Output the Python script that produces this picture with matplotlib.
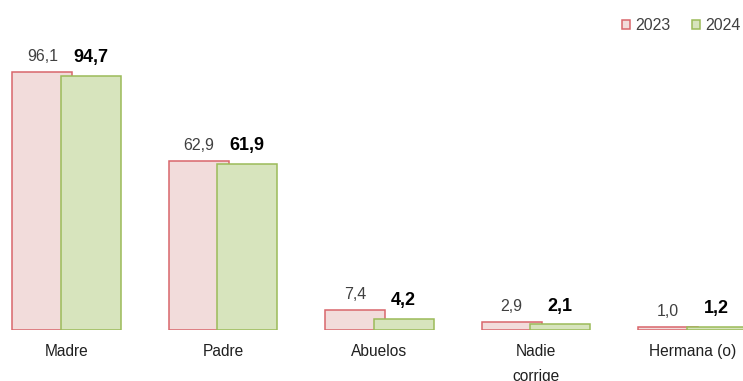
import numpy as np
import matplotlib
matplotlib.use('Agg')
import matplotlib.pyplot as plt
from matplotlib.patches import Patch

plt.rcParams['font.family'] = ['Liberation Sans', 'DejaVu Sans']

categorias = ['Madre', 'Padre', 'Abuelos', 'Nadie\ncorrige', 'Hermana (o)']
val_2023 = [96.1, 62.9, 7.4, 2.9, 1.0]
val_2024 = [94.7, 61.9, 4.2, 2.1, 1.2]

col_2023 = '#F2DCDB'
borde_2023 = '#D9666B'
col_2024 = '#D7E4BD'
borde_2024 = '#9BBB59'

fig = plt.figure(figsize=(7.43, 3.81), dpi=100)
ax = fig.add_axes([0, 0.1339, 1, 0.7743])

x = np.arange(len(categorias))
ancho = 0.383
desp = 0.155

ax.bar(x - desp, val_2023, ancho, color=col_2023, edgecolor=borde_2023, linewidth=1.1, zorder=2)
ax.bar(x + desp, val_2024, ancho, color=col_2024, edgecolor=borde_2024, linewidth=1.1, zorder=3)

fmt = lambda v: f'{v:.1f}'.replace('.', ',')
for xi, v in zip(x, val_2023):
    ax.annotate(fmt(v), (xi - desp, v), xytext=(0, 6), textcoords='offset points',
                ha='center', va='bottom', fontsize=11.5, color='#404040')
for xi, v in zip(x, val_2024):
    ax.annotate(fmt(v), (xi + desp, v), xytext=(0, 7), textcoords='offset points',
                ha='center', va='bottom', fontsize=13, fontweight='bold', color='#000000')

ax.set_xlim(-0.425, 4.323)
ax.set_ylim(0, 110)
ax.set_xticks(x)
ax.set_xticklabels(categorias, fontsize=11.2, color='#202020', linespacing=1.85)
ax.tick_params(axis='x', length=0, pad=10)
ax.set_yticks([])
for s in ax.spines.values():
    s.set_visible(False)

handles = [Patch(facecolor=col_2023, edgecolor=borde_2023, linewidth=1.1, label='2023'),
           Patch(facecolor=col_2024, edgecolor=borde_2024, linewidth=1.1, label='2024')]
fig.legend(handles=handles, loc='upper right', bbox_to_anchor=(1.016, 0.99), ncol=2,
           frameon=False, fontsize=11.5, handlelength=0.5, handleheight=0.5,
           handletextpad=0.35, columnspacing=1.3, labelcolor='#404040')

fig.savefig('out.png', dpi=100)
